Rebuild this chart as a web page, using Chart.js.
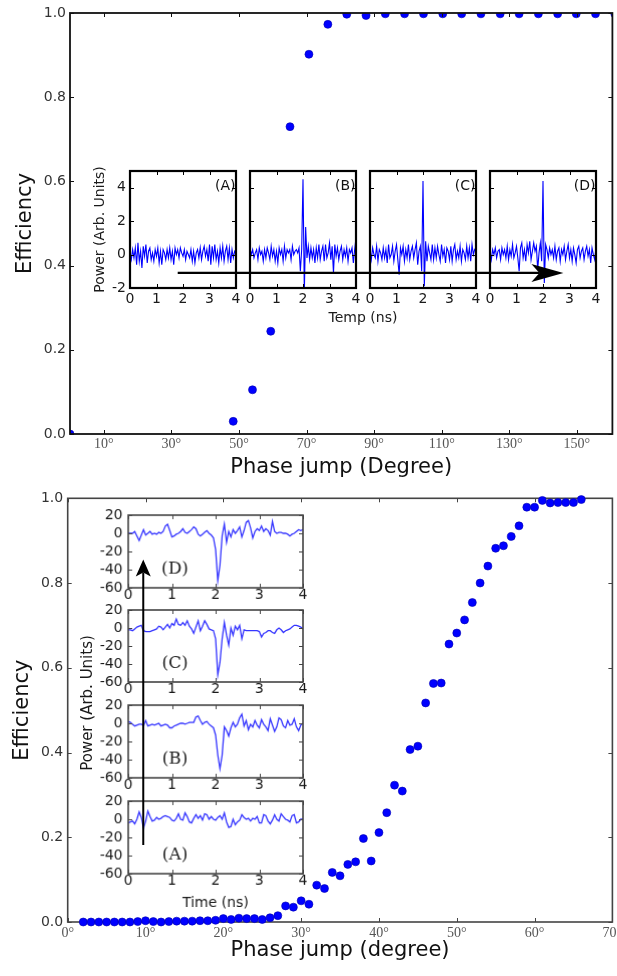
<!DOCTYPE html>
<html>
<head>
<meta charset="utf-8">
<script src="https://cdn.jsdelivr.net/npm/chart.js@4.4.0/dist/chart.umd.min.js"></script>
<style>
  html, body { margin: 0; padding: 0; background: #fff; }
  #fig { position: relative; width: 617px; height: 976px; overflow: hidden; }
  #fig canvas { position: absolute; }
</style>
</head>
<body>
<div id="fig"></div>
<script>
// ---- main plots ----
const topPhase = [0, 48.3, 54.0, 59.4, 65.1, 70.7, 76.3, 81.9, 87.6, 93.3, 99.0, 104.6, 110.3,
  115.9, 121.6, 127.3, 132.9, 138.6, 144.3, 149.8, 155.5, 161.2];
const topEff = [0, 0.03, 0.105, 0.244, 0.73, 0.902, 0.973, 0.997, 0.994, 0.998, 0.998, 0.998, 0.998,
  0.998, 0.998, 0.998, 0.998, 0.998, 0.998, 0.998, 0.998, 0.998];
const topXTicks = [10, 30, 50, 70, 90, 110, 130, 150];

const botPhase = [2, 3, 4, 5, 6, 7, 8, 9, 10, 11,
  12, 13, 14, 15, 16, 17, 18, 19, 20, 21,
  22, 23, 24, 25, 26, 27, 28, 29, 30, 31,
  32, 33, 34, 35, 36, 37, 38, 39, 40, 41,
  42, 43, 44, 45, 46, 47, 48, 49, 50, 51,
  52, 53, 54, 55, 56, 57, 58, 59, 60, 61,
  62, 63, 64, 65, 66];
const botEff = [0, 0, 0, 0, 0, 0, 0, 0.001, 0.003, 0.001,
  0, 0.001, 0.002, 0.002, 0.002, 0.003, 0.003, 0.004, 0.008, 0.006,
  0.009, 0.008, 0.008, 0.006, 0.01, 0.015, 0.038, 0.035, 0.05, 0.042,
  0.087, 0.079, 0.117, 0.109, 0.136, 0.142, 0.197, 0.144, 0.211, 0.258,
  0.323, 0.309, 0.407, 0.415, 0.517, 0.563, 0.564, 0.656, 0.682, 0.713,
  0.754, 0.8, 0.84, 0.882, 0.888, 0.91, 0.935, 0.979, 0.979, 0.995,
  0.989, 0.99, 0.99, 0.99, 0.997];
const botXTicks = [0, 10, 20, 30, 40, 50, 60, 70];
const effTicks = [0, 0.2, 0.4, 0.6, 0.8, 1.0];

// ---- inset traces (time in ns) ----
const tTrace = [0, 0.05, 0.1, 0.15, 0.2, 0.25, 0.3, 0.35, 0.4, 0.45,
  0.5, 0.55, 0.6, 0.65, 0.7, 0.75, 0.8, 0.85, 0.9, 0.95,
  1, 1.05, 1.1, 1.15, 1.2, 1.25, 1.3, 1.35, 1.4, 1.45,
  1.5, 1.55, 1.6, 1.65, 1.7, 1.75, 1.8, 1.85, 1.9, 1.95,
  2, 2.05, 2.1, 2.15, 2.2, 2.25, 2.3, 2.35, 2.4, 2.45,
  2.5, 2.55, 2.6, 2.65, 2.7, 2.75, 2.8, 2.85, 2.9, 2.95,
  3, 3.05, 3.1, 3.15, 3.2, 3.25, 3.3, 3.35, 3.4, 3.45,
  3.5, 3.55, 3.6, 3.65, 3.7, 3.75, 3.8, 3.85, 3.9, 3.95,
  4];
const insetXTicks = [0, 1, 2, 3, 4];

const topA = [0.1, -0.3, 0.3, -0.2, 0.4, -0.6, 0.7, -0.4, 0.2, -0.8,
  0.5, -0.1, 0.6, -0.5, 0.2, 0.4, -0.3, 0.1, -0.4, 0.3,
  -0.1, 0.4, -0.5, 0.2, -0.6, 0.3, 0.1, -0.3, 0.3, -0.2,
  0.4, -0.3, 0.2, -0.6, 0.4, 0.0, 0.3, -0.2, 0.4, 0.1,
  -0.1, 0.3, -0.3, 0.2, 0.0, -0.2, 0.3, -0.4, 0.2, -0.5,
  0.1, 0.3, -0.2, 0.4, -0.3, 0.2, 0.5, -0.1, 0.3, -0.4,
  0.6, -0.6, 0.5, -0.2, 0.6, -0.3, 0.2, -0.5, 0.4, -0.2,
  0.5, -0.4, 0.2, 0.5, -0.3, 0.4, -0.5, 0.3, -0.2, 0.2,
  0.1];
const topB = [0.4, 0.0, 0.3, -0.2, 0.1, 0.3, -0.3, 0.4, 0.0, 0.2,
  -0.4, 0.3, -0.2, 0.4, 0.1, -0.3, 0.5, -0.1, 0.3, -0.4,
  0.2, -0.5, 0.4, 0.0, 0.3, -0.4, 0.5, -0.2, 0.3, 0.1,
  0.3, -0.3, 0.5, 0.0, 0.2, 0.3, 0.1, 0.4, -1.0, 0.3,
  4.5, -2.3, 1.65, -0.2, 0.5, -0.3, 0.4, -0.2, 0.3, -0.5,
  0.4, -0.2, 0.6, -0.3, 0.2, 0.5, -0.4, 0.6, -0.2, 0.1,
  0.7, -0.3, 0.5, -1.1, 0.6, -0.1, 0.4, -0.3, 0.2, 0.5,
  -0.3, 0.3, -0.1, 0.4, -0.4, 0.3, 0.1, 0.4, -0.5, 0.3,
  1.0];
const topC = [0.3, -0.3, 0.4, 0.0, -0.2, 0.5, -0.4, 0.3, 0.1, -0.3,
  0.4, -0.2, 0.3, -0.5, 0.6, -0.2, 0.0, 0.5, -0.4, 0.2,
  0.6, -0.3, -1.2, 0.4, 0.0, 0.5, -0.4, 0.3, -0.2, 0.6,
  -0.3, 0.2, 0.5, -0.2, 0.3, 0.7, -0.6, 0.2, 0.5, -1.0,
  4.4, -1.9, 0.8, -0.4, 0.5, 0.1, -0.3, 0.6, -0.3, 0.4,
  -0.2, 0.5, 0.0, -0.4, 0.6, -0.1, 0.3, -0.5, 0.4, 0.2,
  -0.3, 0.5, -0.4, 0.3, 0.6, -0.3, 0.2, -0.2, 0.5, -0.4,
  0.3, 0.1, -0.3, 0.5, -0.2, 0.4, -0.4, 0.6, 0.0, 0.3,
  0.2];
const topD = [0.2, -0.3, 0.3, 0.0, 0.4, -0.2, 0.2, 0.3, -0.3, 0.4,
  0.0, 0.3, -0.2, 0.5, -0.3, 0.3, -0.1, 0.6, -0.2, 0.1,
  0.5, -0.2, -1.0, 0.4, 0.7, -0.2, 0.3, -0.4, 0.6, 0.1,
  0.8, -0.3, 0.2, 0.7, 0.2, 0.5, -0.9, 0.1, 0.7, -0.4,
  4.4, -1.7, 0.6, 0.3, -0.2, 0.4, 0.0, 0.3, -0.2, 0.5,
  -0.3, 0.2, 0.4, -0.4, 0.3, 0.0, 0.5, -0.3, 0.2, 0.6,
  -0.2, 0.3, -0.4, 0.4, 0.0, -0.5, 0.3, 0.5, -0.2, 0.2,
  0.4, -0.3, 0.2, 0.5, -0.1, 0.3, -0.5, 0.4, 0.0, -0.3,
  0.4];

const botA = [-4, -3, -2, -5, 0, 8, 2, -9, -2, 9,
  3, -2, -1, 2, 0, 1, 3, 4, 3, 2,
  -1, -2, 1, 6, 0, -1, 7, 3, -3, -4,
  1, 5, 1, 4, -1, 6, 5, 0, 3, 0,
  -1, 2, 4, 0, 7, -3, -9, -8, 0, -6,
  -3, -1, 5, 2, 0, 1, -2, 1, 0, 3,
  -4, -4, 5, 4, -2, -5, -1, 5, 0, -2,
  6, 3, 0, -1, -3, 4, 5, -4, -3, 0,
  0];
const botB = [2, 1, -1, -3, -2, -1, -1, -2, 3, -3,
  -2, -1, -2, -1, 0, -3, -2, -1, -2, -5,
  -5, -3, -2, -1, 0, 0, -1, 0, 1, 1,
  1, 7, 8, 3, -1, 1, 2, -1, -3, -5,
  -13, -35, -50, -35, -4, -8, -14, -5, 1, -4,
  -1, 6, 10, -3, 3, -7, -1, -4, 3, -2,
  -5, 4, -1, -4, -8, 5, -2, -9, -4, 6,
  4, -3, -5, 3, -2, -1, 5, -4, -8, -2,
  0];
const botC = [-2, -2, -3, -1, 1, 2, 3, -3, -4, -4,
  -4, -3, -2, -1, 2, 1, -2, 1, 4, 0,
  5, 3, 10, 4, 3, 6, 3, 8, 2, -1,
  -6, 1, 8, -3, 2, 8, 4, -1, -2, -3,
  -12, -52, -38, -12, 6, -8, -19, 0, -8, 2,
  -2, 3, -12, -2, -3, -3, -3, -3, -3, -3,
  -4, -10, -6, -5, -3, -3, -5, -6, -2, 0,
  -2, -5, -3, -2, -1, 1, 3, 3, 2, 1,
  -1];
const botD = [0, 0, 0, 2, -3, -8, -2, 4, -2, 0,
  2, -1, 0, -1, 1, 0, 2, 8, 10, 3,
  -4, -3, -1, 0, 2, 5, 1, 0, 2, 4,
  7, 5, -1, -3, -1, 1, 3, 0, -2, -5,
  -18, -52, -35, -3, 10, -10, 2, -4, 4, 0,
  3, 7, -4, 3, 12, 14, 6, -5, 2, 5,
  3, 8, 2, 5, 3, -2, 13, 2, 0, 1,
  1, 0, 0, -1, -3, -1, 0, 2, 4, 3,
  4];

const topInsetYTicks = [-2, 0, 2, 4];
const botInsetYTicks = [-60, -40, -20, 0, 20];

// ---- helpers ----
const fig = document.getElementById('fig');

function addCanvas(x, y, w, h) {
  const c = document.createElement('canvas');
  c.width = w;
  c.height = h;
  c.style.left = x + 'px';
  c.style.top = y + 'px';
  c.style.width = w + 'px';
  c.style.height = h + 'px';
  fig.appendChild(c);
  return c;
}

const zeroPad = s => {
  s.paddingLeft = 0;
  s.paddingRight = 0;
  s.paddingTop = 0;
  s.paddingBottom = 0;
};

// box round the axes plus inward ticks, like matplotlib
function drawFrame(chart, o) {
  const { ctx, chartArea: a, scales } = chart;
  ctx.save();
  ctx.strokeStyle = o.color;
  ctx.lineWidth = o.width;
  ctx.strokeRect(a.left, a.top, a.right - a.left, a.bottom - a.top);
  ctx.lineWidth = 1;
  ctx.beginPath();
  scales.x.ticks.forEach(t => {
    const p = Math.round(scales.x.getPixelForValue(t.value)) + 0.5;
    ctx.moveTo(p, a.bottom); ctx.lineTo(p, a.bottom - o.tick);
    ctx.moveTo(p, a.top); ctx.lineTo(p, a.top + o.tick);
  });
  scales.y.ticks.forEach(t => {
    const p = Math.round(scales.y.getPixelForValue(t.value)) + 0.5;
    ctx.moveTo(a.left, p); ctx.lineTo(a.left + o.tick, p);
    ctx.moveTo(a.right, p); ctx.lineTo(a.right - o.tick, p);
  });
  ctx.stroke();
  ctx.restore();
}

const frame = {
  id: 'frame',
  beforeDatasetsDraw(chart, args, o) { if (o.under) drawFrame(chart, o); },
  afterDatasetsDraw(chart, args, o) { if (!o.under) drawFrame(chart, o); }
};

// panel tag written at data coordinates of the inset
const tag = {
  id: 'tag',
  afterDraw(chart, args, o) {
    if (!o.text) return;
    const { ctx, scales } = chart;
    ctx.save();
    ctx.font = o.font;
    ctx.fillStyle = o.color;
    ctx.textAlign = o.align;
    ctx.textBaseline = 'middle';
    ctx.fillText(o.text, scales.x.getPixelForValue(o.x), scales.y.getPixelForValue(o.y));
    ctx.restore();
  }
};

function mainChart(canvas, o) {
  return new Chart(canvas, {
    type: 'scatter',
    data: {
      datasets: [{
        data: o.xs.map((x, i) => ({ x, y: o.ys[i] })),
        backgroundColor: '#0000ff',
        borderColor: '#0000b0',
        borderWidth: 0.6,
        pointRadius: 4,
        pointHoverRadius: 4,
        clip: o.clip
      }]
    },
    options: {
      responsive: false,
      animation: false,
      events: [],
      layout: { padding: o.pad },
      plugins: {
        legend: { display: false },
        tooltip: { enabled: false },
        frame: { color: o.frameColor, width: o.frameWidth, tick: 4, under: o.under },
        tag: {}
      },
      scales: {
        x: {
          type: 'linear', min: 0, max: o.xMax,
          grid: { display: false, drawTicks: false },
          border: { display: false },
          afterBuildTicks: s => { s.ticks = o.xTicks.map(v => ({ value: v })); },
          afterFit: s => { s.height = o.xH; zeroPad(s); },
          ticks: {
            autoSkip: false, maxRotation: 0, padding: o.xTickPad,
            color: '#555', font: { family: 'Liberation Serif', size: 14 },
            callback: v => v + '°'
          },
          title: {
            display: true, text: o.xTitle, color: '#111',
            font: { family: 'DejaVu Sans', size: 21 },
            padding: { top: 0, bottom: o.xTitlePad }
          }
        },
        y: {
          min: 0, max: 1,
          grid: { display: false, drawTicks: false },
          border: { display: false },
          afterBuildTicks: s => { s.ticks = effTicks.map(v => ({ value: v })); },
          afterFit: s => { s.width = o.yW; zeroPad(s); },
          ticks: {
            autoSkip: false, padding: o.yTickPad, color: '#333',
            font: { family: 'DejaVu Sans', size: 14 },
            callback: v => v.toFixed(1)
          },
          title: {
            display: true, text: 'Efficiency', color: '#111',
            font: { family: 'DejaVu Sans', size: 21 },
            padding: { top: o.yTitlePad, bottom: 0 }
          }
        }
      }
    },
    plugins: [frame, tag]
  });
}

function insetChart(area, m, trace, o) {
  const ox = area.l - m.l, oy = area.t - m.t;
  const c = addCanvas(ox, oy, area.w + m.l + m.r, area.h + m.t + m.b);
  const chart = new Chart(c, {
    type: 'line',
    data: {
      datasets: [{
        data: tTrace.map((t, i) => ({ x: t, y: trace[i] })),
        borderColor: o.lineColor,
        borderWidth: o.lineWidth,
        pointRadius: 0,
        tension: 0,
        fill: false
      }]
    },
    options: {
      responsive: false,
      animation: false,
      events: [],
      layout: { padding: { left: 0, top: m.t, right: m.r, bottom: 0 } },
      plugins: {
        legend: { display: false },
        tooltip: { enabled: false },
        frame: { color: o.frameColor, width: o.frameWidth, tick: 4 },
        tag: o.tag
      },
      scales: {
        x: {
          type: 'linear', min: 0, max: 4,
          grid: { display: false, drawTicks: false },
          border: { display: false },
          afterBuildTicks: s => { s.ticks = insetXTicks.map(v => ({ value: v })); },
          afterFit: s => { s.height = m.b; zeroPad(s); },
          ticks: {
            autoSkip: false, maxRotation: 0, padding: o.xTickPad, color: '#1a1a1a',
            font: { family: 'DejaVu Sans', size: 14, lineHeight: 1.0 }
          },
          title: o.xTitle ? {
            display: true, text: o.xTitle, color: '#1a1a1a',
            font: { family: 'DejaVu Sans', size: 14 },
            padding: { top: 0, bottom: o.xTitlePad }
          } : { display: false }
        },
        y: {
          min: o.yMin, max: o.yMax,
          grid: { display: false, drawTicks: false },
          border: { display: false },
          afterBuildTicks: s => { s.ticks = o.yTicks.map(v => ({ value: v })); },
          afterFit: s => { s.width = m.l; zeroPad(s); },
          ticks: {
            autoSkip: false, display: o.showY, padding: o.yTickPad, color: '#1a1a1a',
            font: { family: 'DejaVu Sans', size: 14, lineHeight: 1.0 }
          },
          title: o.yTitle ? {
            display: true, text: o.yTitle, color: '#1a1a1a',
            font: { family: 'DejaVu Sans', size: 14 },
            padding: { top: o.yTitlePad, bottom: 0 }
          } : { display: false }
        }
      }
    },
    plugins: [frame, tag]
  });
  chart.ox = ox;
  chart.oy = oy;
  return chart;
}

// ---- top figure ----
mainChart(addCanvas(0, 0, 617, 480), {
  xs: topPhase, ys: topEff, xTicks: topXTicks, xMax: 160.5,
  pad: { left: 0, top: 13, right: 1, bottom: 0 },
  yW: 70, xH: 46, xTickPad: 2, yTickPad: 4,
  xTitle: 'Phase jump (Degree)', xTitlePad: 0, yTitlePad: 13,
  frameColor: '#111', frameWidth: 1.8, under: false, clip: undefined
});

const topPanels = [
  { l: 130, trace: topA, label: '(A)' },
  { l: 250, trace: topB, label: '(B)' },
  { l: 370, trace: topC, label: '(C)' },
  { l: 490, trace: topD, label: '(D)' }
];
const topInsets = topPanels.map((p, i) => insetChart(
  { l: p.l, t: 171, w: 106, h: 117 },
  { l: i === 0 ? 40 : 12, t: 10, r: 8, b: 24 },
  p.trace,
  {
    lineColor: '#0000ff', lineWidth: 1.1, frameColor: '#000', frameWidth: 2.2,
    yMin: -2, yMax: 5, yTicks: topInsetYTicks, showY: i === 0,
    xTickPad: 4, yTickPad: 4,
    yTitle: i === 0 ? 'Power (Arb. Units)' : null, yTitlePad: 1.6,
    tag: { text: p.label, x: 3.98, y: 4.1, align: 'right', color: '#111', font: "14px 'DejaVu Sans'" }
  }
));

// ---- bottom figure ----
mainChart(addCanvas(0, 480, 617, 496), {
  xs: botPhase, ys: botEff, xTicks: botXTicks, xMax: 70,
  pad: { left: 0, top: 18.3, right: 3.5, bottom: 0 },
  yW: 67.7, xH: 54, xTickPad: 3, yTickPad: 4.5,
  xTitle: 'Phase jump (degree)', xTitlePad: 13, yTitlePad: 10,
  frameColor: '#444', frameWidth: 1.6, under: true, clip: false
});

const botPanels = [
  { t: 515, trace: botD, label: '(D)' },
  { t: 609.5, trace: botC, label: '(C)' },
  { t: 705, trace: botB, label: '(B)' },
  { t: 801, trace: botA, label: '(A)' }
];
const botInsets = botPanels.map((p, i) => insetChart(
  { l: 128.3, t: p.t, w: 174.4, h: 72.7 },
  { l: 48, t: 9, r: 8, b: i === 3 ? 40 : 22 },
  p.trace,
  {
    lineColor: '#3535ff', lineWidth: 1.3, frameColor: '#444', frameWidth: 1.6,
    yMin: -60, yMax: 20, yTicks: botInsetYTicks, showY: true,
    xTickPad: 0, yTickPad: 5.5,
    xTitle: i === 3 ? 'Time (ns)' : null, xTitlePad: 2.5,
    tag: { text: p.label, x: 1.07, y: -40, align: 'center', color: '#222', font: "17px 'DejaVu Serif'" }
  }
));

// ---- arrows and shared labels over the insets ----
const over = addCanvas(0, 0, 617, 976);
const g = over.getContext('2d');
const px = (ch, v) => ch.ox + ch.scales.x.getPixelForValue(v);
const py = (ch, v) => ch.oy + ch.scales.y.getPixelForValue(v);

function arrow(x0, y0, x1, y1, len, half, notch, lw) {
  const ang = Math.atan2(y1 - y0, x1 - x0);
  const ux = Math.cos(ang), uy = Math.sin(ang);
  const bx = x1 - ux * len, by = y1 - uy * len;
  const nx = x1 - ux * (len - notch), ny = y1 - uy * (len - notch);
  g.save();
  g.strokeStyle = '#000';
  g.fillStyle = '#000';
  g.lineWidth = lw;
  g.beginPath();
  g.moveTo(x0, y0);
  g.lineTo(nx, ny);
  g.stroke();
  g.beginPath();
  g.moveTo(x1, y1);
  g.lineTo(bx - uy * half, by + ux * half);
  g.lineTo(nx, ny);
  g.lineTo(bx + uy * half, by - ux * half);
  g.closePath();
  g.fill();
  g.restore();
}

const tA = topInsets[0], tD = topInsets[3];
const ay = py(tA, -1.1);
arrow(px(tA, 1.8), ay, px(tD, 2.77), ay, 32, 9, 8, 2.2);

const bD = botInsets[0], bA = botInsets[3];
const ax = px(bA, 0.344);
arrow(ax, py(bA, -29), ax, py(bD, -29.5), 17, 7.5, 4, 2);

g.save();
g.fillStyle = '#1a1a1a';
g.textAlign = 'center';
g.textBaseline = 'middle';
g.font = "14px 'DejaVu Sans'";
g.fillText('Temp (ns)', (px(tA, 0) + px(tD, 4)) / 2, py(tA, -2) + 30);
g.translate(px(bA, 0) - 40, 703);
g.rotate(-Math.PI / 2);
g.font = "15px 'DejaVu Sans'";
g.fillText('Power (Arb. Units)', 0, 0);
g.restore();
</script>
</body>
</html>
